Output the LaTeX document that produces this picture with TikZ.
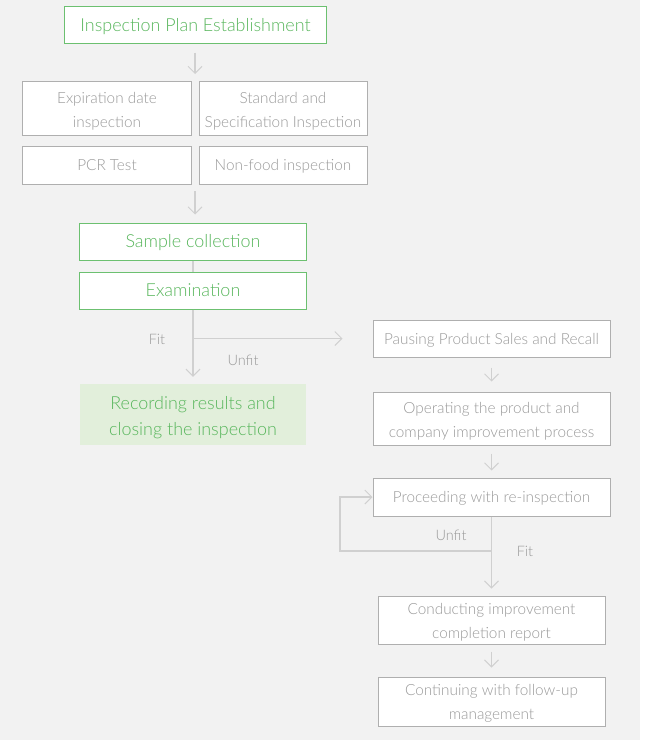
\documentclass[tikz,border=0pt]{standalone}
\usepackage{fontspec}
\setmainfont{Lato}[UprightFont=* Light]
\usetikzlibrary{arrows.meta}
\definecolor{bg}{HTML}{F2F2F2}
\definecolor{gr}{HTML}{6CC070}
\definecolor{grtext}{HTML}{58B65C}
\definecolor{gybox}{HTML}{AFAFAF}
\definecolor{gytext}{HTML}{999999}
\definecolor{arr}{HTML}{D0D0D0}
\definecolor{lightgreen}{HTML}{E2EFDB}
\tikzset{
  struts/.style={execute at begin node={\rule{0pt}{0.98em}}, execute at end node={\rule[-0.26em]{0pt}{0.26em}}},
  greenbox/.style={struts, draw=gr, line width=1bp, fill=white, text=grtext, font=\fontsize{18}{25}\selectfont, align=center, inner sep=0pt},
  graybox/.style={struts, draw=gybox, line width=1bp, fill=white, text=gytext, font=\fontsize{15.4}{24}\selectfont, align=center, inner sep=0pt},
  resbox/.style={fill=lightgreen, inner sep=0pt},
  graytext/.style={text=gytext, font=\fontsize{15.4}{24.5}\selectfont, align=center, inner sep=0pt},
  greentext/.style={text=grtext, font=\fontsize{18}{26}\selectfont, align=center, inner sep=0pt},
  conn/.style={draw=arr, line width=1.2bp},
  flow/.style={conn, -{Straight Barb[length=7bp,width=14bp,line width=1bp]}},
  lbl/.style={text=gytext, font=\fontsize{14.5}{17}\selectfont, inner sep=0pt}
}
\begin{document}
\begin{tikzpicture}[x=1bp,y=-1bp]
\fill[white] (0,0) rectangle (645,740);
\fill[bg] (0,0) rectangle (640,740);
\useasboundingbox (0,0) rectangle (645,740);
% left column
\node[greenbox, minimum width=261bp, minimum height=37bp] (plan) at (195.5,25.5) {Inspection Plan Establishment};
\node[graybox, minimum width=168bp, minimum height=53bp] (exp) at (107,108.5) {};
\node[graytext] (expt) at ([yshift=-3bp]exp.center) {Expiration date\\inspection};
\node[graybox, minimum width=168bp, minimum height=53bp] (std) at (283,108.5) {};
\node[graytext] (stdt) at ([yshift=-3bp]std.center) {Standard and\\Specification Inspection};
\node[graybox, minimum width=168bp, minimum height=38bp] (pcr) at (107,165) {PCR Test};
\node[graybox, minimum width=168bp, minimum height=38bp] (nonfood) at (283,165) {Non-food inspection};
\node[greenbox, minimum width=226bp, minimum height=37bp] (sample) at (193,241.5) {Sample collection};
\node[greenbox, minimum width=226bp, minimum height=37bp] (exam) at (193,290.5) {Examination};
\node[resbox, minimum width=226bp, minimum height=61bp] (record) at (193,414.5) {};
\node[greentext] (recordt) at ([yshift=-3.5bp]record.center) {Recording results and\\closing the inspection};
% right column
\node[graybox, minimum width=237bp, minimum height=37bp] (pause) at (491.5,338.5) {Pausing Product Sales and Recall};
\node[graybox, minimum width=237bp, minimum height=53bp] (operate) at (491.5,418.5) {};
\node[graytext] (operatet) at ([yshift=-3bp]operate.center) {Operating the product and\\company improvement process};
\node[graybox, minimum width=237bp, minimum height=38bp] (reinsp) at (491.5,497) {Proceeding with re-inspection};
\node[graybox, minimum width=227bp, minimum height=48bp] (conduct) at (491.5,620) {};
\node[graytext] (conductt) at ([yshift=-2.5bp]conduct.center) {Conducting improvement\\completion report};
\node[graybox, minimum width=227bp, minimum height=49bp] (cont) at (491.5,701.5) {};
\node[graytext] (contt) at ([yshift=-2bp]cont.center) {Continuing with follow-up\\management};
% coordinates
\coordinate (gridtop) at (195,82);
\coordinate (gridbot) at (195,184);
\coordinate (br) at (exam.south |- pause.west);
\coordinate (loopa) at (491.5,551);
\coordinate (loopb) at (340,551);
\coordinate (loopc) at (340,497);
% connectors
\draw[flow, shorten <=8bp, shorten >=8bp] (plan.south -| gridtop) -- (gridtop);
\draw[flow, shorten <=7bp, shorten >=8bp] (gridbot) -- (sample.north -| gridbot);
\draw[conn] (sample) -- (exam);
\draw[flow, shorten >=7bp] (exam) -- (record);
\draw[flow, shorten >=30bp] (br) -- (pause.west);
\draw[flow, shorten <=10bp, shorten >=10bp] (pause) -- (operate);
\draw[flow, shorten <=8bp, shorten >=7bp] (operate) -- (reinsp);
\draw[flow] (reinsp.south) -- (loopa) -- (loopb) -- (loopc) -- (reinsp.west);
\draw[flow, shorten >=7bp] (loopa) -- (conduct.north);
\draw[flow, shorten <=7bp, shorten >=9bp] (conduct) -- (cont);
% labels
\node[lbl] (fit1) at (157,339) {Fit};
\node[lbl] (unfit1) at (243,360) {Unfit};
\node[lbl] (unfit2) at (451,535) {Unfit};
\node[lbl] (fit2) at (525,551) {Fit};
\end{tikzpicture}
\end{document}
